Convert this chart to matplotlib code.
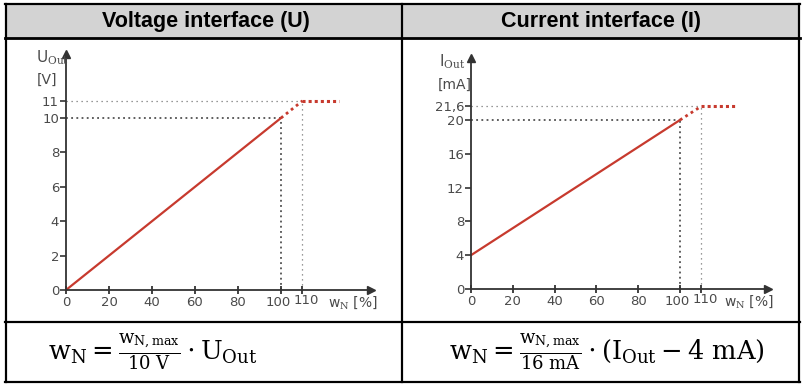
import matplotlib
import matplotlib.pyplot as plt
from matplotlib.lines import Line2D
from matplotlib.patches import Rectangle
from matplotlib.transforms import ScaledTranslation

plt.rcParams['mathtext.fontset'] = 'dejavuserif'

# Output characteristics (percent of nominal value -> output signal)
w_N = [0, 100, 110, 127]
U_out = [0, 10, 11, 11]       # V
I_out = [4, 20, 21.6, 21.6]   # mA

U_ticks = [0, 2, 4, 6, 8, 10, 11]
I_ticks = [0, 4, 8, 12, 16, 20, 21.6]
I_ticklabels = ['0', '4', '8', '12', '16', '20', '21,6']
x_ticks = [0, 20, 40, 60, 80, 100, 110]

headers = ['Voltage interface (U)', 'Current interface (I)']
formulas = [r'$\mathrm{w_N} = \frac{\mathrm{w_{N,max}}}{\mathrm{10\ V}} \cdot \mathrm{U_{Out}}$',
            r'$\mathrm{w_N} = \frac{\mathrm{w_{N,max}}}{\mathrm{16\ mA}} \cdot (\mathrm{I_{Out}} - \mathrm{4\ mA})$']

W, H = 803, 384
fig = plt.figure(figsize=(W / 100, H / 100), dpi=100)


def fx(px):
    return px / W


def fy(py):
    return 1 - py / H


# table
fig.patches.append(Rectangle((fx(5), fy(38)), fx(795), 35 / H, transform=fig.transFigure,
                             facecolor='#d3d3d3', edgecolor='none', zorder=0))
lw = 2.2
for y0, w in [(4, lw), (38, 2.8), (322, lw), (382, lw)]:
    fig.add_artist(Line2D([fx(5), fx(800)], [fy(y0), fy(y0)], color='black', lw=w * 0.72))
for x0 in [6, 402, 799]:
    fig.add_artist(Line2D([fx(x0), fx(x0)], [fy(4), fy(382)], color='black', lw=lw * 0.72))

fig.text(fx(206), fy(21), headers[0], ha='center', va='center', fontsize=15.5,
         fontweight='bold', family='Liberation Sans')
fig.text(fx(601), fy(21), headers[1], ha='center', va='center', fontsize=15.5,
         fontweight='bold', family='Liberation Sans')
fig.text(fx(153), fy(352), formulas[0], ha='center', va='center', fontsize=18.5)
fig.text(fx(607), fy(352), formulas[1], ha='center', va='center', fontsize=18.5)

red = '#c73a2e'
axc = '#333333'
txt = '#4a4a4a'


def make_axes(x0, y0, sx, sy, ymax, y, yticks, yticklabels):
    xmax = 145
    ax = fig.add_axes([fx(x0), fy(y0), xmax * sx / W, ymax * sy / H])
    ax.set_xlim(0, xmax)
    ax.set_ylim(0, ymax)
    ax.patch.set_alpha(0)
    for s in ['top', 'right']:
        ax.spines[s].set_visible(False)
    for s in ['left', 'bottom']:
        ax.spines[s].set_color(axc)
        ax.spines[s].set_linewidth(1.3)
    ax.spines['bottom'].set_bounds(0, xmax - 4)
    ax.spines['left'].set_bounds(0, ymax - 0.4 * ymax / 14)
    ax.plot(xmax - 3, 0, '>', color=axc, ms=6, clip_on=False)
    ax.plot(0, ymax - 0.3 * ymax / 14, '^', color=axc, ms=6, clip_on=False)

    ax.set_xticks(x_ticks)
    ax.set_yticks(yticks)
    ax.set_yticklabels(yticklabels)
    ax.tick_params(axis='x', direction='inout', length=6, width=1.3, color=axc,
                   labelcolor=txt, labelsize=9.5, pad=1)
    ax.tick_params(axis='y', direction='out', length=4, width=1.2, color=axc,
                   labelcolor=txt, labelsize=9.5, pad=1)

    # nudge the crowded 100 / 110 labels apart, 110 sits a bit higher
    labels = ax.get_xticklabels()
    shifts = {5: (-3, 0), 6: (4, 2)}
    for i, (dx, dy) in shifts.items():
        labels[i].set_transform(labels[i].get_transform() +
                                ScaledTranslation(dx / 100, dy / 100, fig.dpi_scale_trans))

    # guide lines
    ax.plot([0, 100], [y[1], y[1]], ls=(0, (1.2, 2.2)), color='#333333', lw=1.1)
    ax.plot([100, 100], [0, y[1]], ls=(0, (1.2, 2.2)), color='#333333', lw=1.1)
    ax.plot([0, 110], [y[2], y[2]], ls=(0, (1, 3)), color='#777777', lw=0.9)
    ax.plot([110, 110], [0, y[2]], ls=(0, (1, 3)), color='#777777', lw=0.9)

    # characteristic
    ax.plot(w_N[:2], y[:2], color=red, lw=1.6, solid_capstyle='round', clip_on=False)
    ax.plot(w_N[1:3], y[1:3], ls=(0, (1, 1.3)), color=red, lw=2.0)
    ax.plot(w_N[2:], y[2:], ls=(0, (1, 1.0)), color=red, lw=2.2)

    ax.text(145, 0, r'w$_\mathrm{N}$ [%]', color=txt, fontsize=10, ha='right', va='top',
            transform=ax.transData + ScaledTranslation(0, -4 / 100, fig.dpi_scale_trans))
    return ax


axL = make_axes(66, 290, 2.15, 17.2, 14, U_out, U_ticks, [str(t) for t in U_ticks])
axR = make_axes(471, 289, 2.09, 8.45, 27.9, I_out, I_ticks, I_ticklabels)

fig.text(fx(36), fy(58), r'U$_{\mathrm{Out}}$', color=txt, fontsize=11, ha='left', va='center')
fig.text(fx(37), fy(80), '[V]', color=txt, fontsize=10, ha='left', va='center')
fig.text(fx(439), fy(62), r'I$_{\mathrm{Out}}$', color=txt, fontsize=11, ha='left', va='center')
fig.text(fx(438), fy(85), '[mA]', color=txt, fontsize=10, ha='left', va='center')

fig.savefig('out.png', dpi=100)
